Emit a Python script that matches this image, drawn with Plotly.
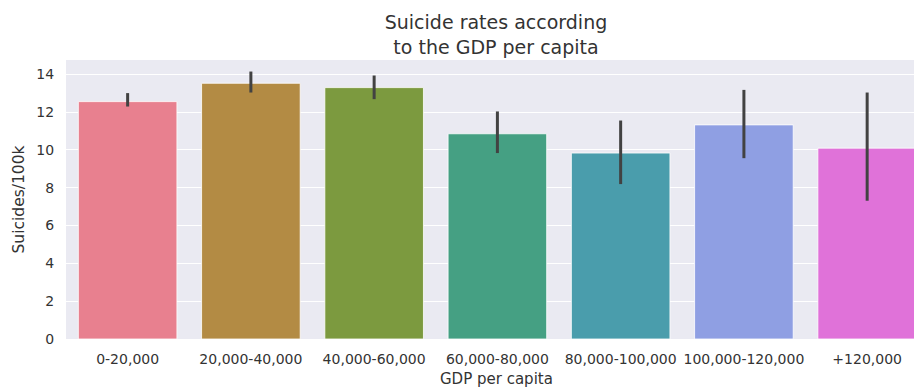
import plotly.graph_objects as go

categories = ["0-20,000", "20,000-40,000", "40,000-60,000", "60,000-80,000",
              "80,000-100,000", "100,000-120,000", "+120,000"]
rates = [12.55, 13.52, 13.29, 10.85, 9.83, 11.32, 10.09]
ci_high = [13.00, 14.14, 13.93, 12.03, 11.55, 13.17, 13.03]
ci_low = [12.29, 13.03, 12.68, 9.83, 8.19, 9.56, 7.31]
colors = ["#e8808f", "#b38b44", "#7c9a3f", "#45a083", "#4a9dac", "#8f9fe3", "#e072d9"]
y_ticks = [0, 2, 4, 6, 8, 10, 12, 14]

err_plus = [h - v for h, v in zip(ci_high, rates)]
err_minus = [v - l for v, l in zip(rates, ci_low)]

FONT = "DejaVu Sans"
TXT = "#333333"

fig = go.Figure()
fig.add_trace(go.Bar(
    x=categories, y=rates, width=0.8,
    marker=dict(color=colors, line=dict(color="white", width=0.8)),
    error_y=dict(type="data", symmetric=False, array=err_plus, arrayminus=err_minus,
                 color="#424242", thickness=3, width=0),
    showlegend=False,
))

fig.update_layout(
    width=914, height=388,
    margin=dict(l=66, r=0, t=60, b=49),
    paper_bgcolor="white", plot_bgcolor="#eaeaf2",
    font=dict(family=FONT, color=TXT),
    title=dict(text="Suicide rates according<br>to the GDP per capita",
               x=496 / 914, xref="container", xanchor="center",
               y=1 - 29 / 388, yref="container", yanchor="middle",
               font=dict(family=FONT, size=19, color=TXT)),
    xaxis=dict(range=[-0.5, 6.38], showgrid=False, zeroline=False,
               ticks="outside", ticklen=7, tickcolor="rgba(0,0,0,0)",
               tickfont=dict(family=FONT, size=14, color=TXT)),
    yaxis=dict(range=[0, 14.75], tickvals=y_ticks, showgrid=True, gridcolor="white",
               gridwidth=1, zeroline=False,
               ticks="outside", ticklen=8, tickcolor="rgba(0,0,0,0)",
               tickfont=dict(family=FONT, size=14, color=TXT),
               title=dict(text="Suicides/100k", standoff=7,
                          font=dict(family=FONT, size=15.5, color=TXT))),
    annotations=[dict(text="GDP per capita", xref="paper", yref="paper",
                      x=(496 - 66) / (914 - 66), y=0, yshift=-40,
                      xanchor="center", yanchor="middle", showarrow=False,
                      font=dict(family=FONT, size=15, color=TXT))],
)

fig.write_html("out.html")
